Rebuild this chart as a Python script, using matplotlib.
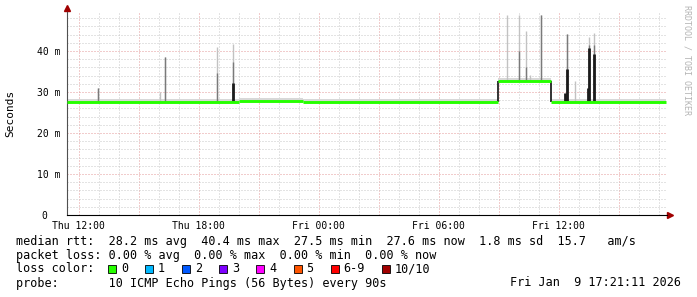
#!/usr/bin/env python3
"""
Smokeping-style latency graph (median rtt with smoke spikes)
"""

import matplotlib
matplotlib.use('Agg')
import matplotlib.pyplot as plt
from matplotlib.patches import Rectangle

# ---- data (hours since Thu 12:00, values in ms) ----
x_start = -0.58
x_end = 29.42

seg_start = [-0.58, 8.0, 11.2, 20.95, 23.63]
seg_end = [8.0, 11.2, 20.95, 23.63, 29.38]
seg_level = [27.6, 27.8, 27.6, 32.7, 27.6]

spike_hours = [0.98, 4.08, 4.33, 6.93, 7.73, 21.4, 22.0, 22.35, 22.55,
               23.13, 24.3, 24.41, 24.83, 25.45, 25.53, 25.78]
spike_light = [31.0, 30.0, 38.6, 40.9, 41.7, 48.8, 48.8, 44.9, 34.1,
               48.8, 29.8, 44.1, 32.7, 30.9, 43.5, 44.3]
spike_mid = [31.0, 0, 38.6, 34.6, 37.4, 0, 40.0, 36.0, 0,
             48.8, 0, 44.1, 0, 0, 41.5, 41.5]
spike_dark = [0, 0, 0, 0, 32.1, 0, 0, 0, 0,
              0, 29.8, 35.5, 0, 30.9, 40.7, 39.2]

y_ticks = [0, 10, 20, 30, 40]
y_labels = ['0  ', '10 m', '20 m', '30 m', '40 m']
x_ticks = [0, 6, 12, 18, 24]
x_labels = ['Thu 12:00', 'Thu 18:00', 'Fri 00:00', 'Fri 06:00', 'Fri 12:00']

loss_labels = ['0', '1', '2', '3', '4', '5', '6-9', '10/10']
loss_colors = ['#26ff00', '#00b8ff', '#0059ff', '#7e00ff', '#ff00ff',
               '#ff5500', '#ff0000', '#a10000']

legend_lines = [
    'median rtt:  28.2 ms avg  40.4 ms max  27.5 ms min  27.6 ms now  1.8 ms sd  15.7   am/s',
    'packet loss: 0.00 % avg  0.00 % max  0.00 % min  0.00 % now',
    'loss color:',
    'probe:       10 ICMP Echo Pings (56 Bytes) every 90s',
]
timestamp = 'Fri Jan  9 17:21:11 2026'

MONO = 'DejaVu Sans Mono'
W, H = 697, 297


def level_at(h):
    for s, e, lv in zip(seg_start, seg_end, seg_level):
        if s <= h < e:
            return lv
    return seg_level[-1]


def fx(px):
    return px / W


def fy(py):
    return 1 - py / H


fig = plt.figure(figsize=(W / 100, H / 100), dpi=100)
fig.patch.set_facecolor('white')
ax = fig.add_axes([fx(67), fy(215), 600 / W, 203 / H])
ax.set_xlim(x_start, x_end)
ax.set_ylim(0, 49.5)

# grid
ax.set_axisbelow(True)
ax.set_xticks(list(range(0, 30, 3)))
ax.set_xticks([h for h in range(0, 30) if h % 3], minor=True)
ax.set_yticks(y_ticks)
ax.set_yticks([v for v in range(2, 50, 2) if v % 10], minor=True)
ax.grid(which='minor', color='#c8c8c8', linestyle=(0, (1, 2)), linewidth=0.72)
ax.grid(which='major', color='#e49a9a', linestyle=(0, (1, 2)), linewidth=0.72)

ax.set_yticklabels(y_labels, fontfamily=MONO, fontsize=7)
ax.set_xticklabels(['' if t not in x_ticks else x_labels[x_ticks.index(t)]
                    for t in range(0, 30, 3)], fontfamily=MONO, fontsize=7)
ax.tick_params(which='both', length=0)
ax.tick_params(axis='y', pad=5)
ax.tick_params(axis='x', pad=4)

# smoke band just above median
for s, e, lv in zip(seg_start, seg_end, seg_level):
    ax.fill_between([s, e], lv, lv + 0.7, color='#d8d8d8', linewidth=0, zorder=2)

# smoke spikes
for h, lt, md, dk in zip(spike_hours, spike_light, spike_mid, spike_dark):
    base = level_at(h)
    ax.vlines(h, base, lt, color='#c2c2c2', linewidth=1.0, zorder=3)
    if md:
        ax.vlines(h, base, md, color='#7a7a7a', linewidth=1.0, zorder=3)
    if dk:
        ax.vlines(h, base, dk, color='#1c1c1c', linewidth=2.0, zorder=4)

# median line (black step connectors, green level segments)
for i in range(1, len(seg_start)):
    if abs(seg_level[i] - seg_level[i - 1]) > 1:
        ax.vlines(seg_start[i], seg_level[i - 1], seg_level[i], color='#111111',
                  linewidth=1.2, zorder=5)
ax.hlines(seg_level, seg_start, seg_end, color=loss_colors[0], linewidth=2.1, zorder=6)

# axes
for side in ['top', 'right']:
    ax.spines[side].set_visible(False)
ax.spines['left'].set_color('#505050')
ax.spines['bottom'].set_color('black')
ax.spines['left'].set_linewidth(0.8)
ax.spines['bottom'].set_linewidth(0.8)
ax.plot([0], [1.0 + 4 / 203], marker='^', color='#a00000', markersize=4,
        transform=ax.transAxes, clip_on=False)
ax.plot([1.0 + 3 / 600], [0], marker='>', color='#a00000', markersize=4,
        transform=ax.transAxes, clip_on=False)

fig.text(fx(10), fy(113), 'Seconds', rotation=90, ha='center', va='center',
         fontfamily=MONO, fontsize=8)
fig.text(fx(687), fy(5), 'RRDTOOL / TOBI OETIKER', rotation=270, ha='center',
         va='top', fontfamily=MONO, fontsize=6, color='#b4b4b4')

# legend text
for i, line in enumerate(legend_lines):
    fig.text(fx(16), fy(241 + 14 * i), line, ha='left', va='center',
             fontfamily=MONO, fontsize=8.5)
fig.text(fx(681), fy(283), timestamp, ha='right', va='center',
         fontfamily=MONO, fontsize=8.5)

bx = 108
for lab, col in zip(loss_labels, loss_colors):
    fig.patches.append(Rectangle((fx(bx), fy(273)), 8 / W, 8 / H, facecolor=col,
                                 edgecolor='black', linewidth=0.6,
                                 transform=fig.transFigure, figure=fig))
    fig.text(fx(bx + 13), fy(269), lab, ha='left', va='center',
             fontfamily=MONO, fontsize=8.5)
    bx += 30 + len(lab) * 7.12

fig.savefig('out.png', dpi=100)
